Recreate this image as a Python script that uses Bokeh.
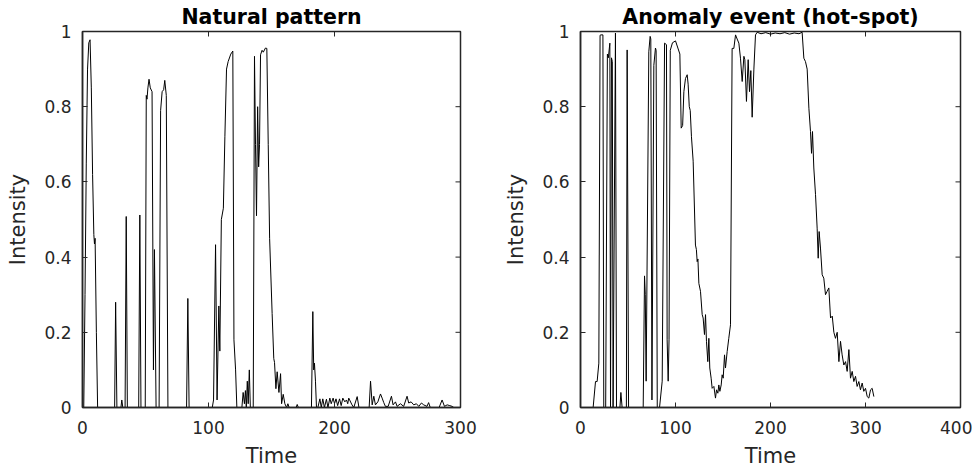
import math
from bokeh.plotting import figure
from bokeh.models import Range1d, LinearAxis, FixedTicker
from bokeh.layouts import row
from bokeh.embed import file_html
from bokeh.resources import INLINE

# ---------------- data ----------------
nat_t = [0, 1, 2, 3, 4, 5, 6, 7, 8, 9, 9.5, 10, 11, 12,
         25.5, 26.3, 27.3,
         30.5, 31.2, 32,
         33.8, 34.7, 35.6,
         44.6, 45.5, 46.4,
         49.8, 50.6, 51.2, 51.9, 52.8, 53.8, 55.2, 56.3, 57.1, 58.4,
         60.8, 62, 63.2, 64.4, 65.3, 66.5, 67.8,
         82.6, 83.6, 84.6,
         103, 104, 105.6, 106.8, 108.2, 109, 110.2, 111.8, 113, 114.3, 115.6, 117.7, 119.3, 120.2, 121.5, 122.5,
         126.5, 127.5, 128.5, 129.3, 130, 130.8, 131.5, 132.4, 133.2, 135.5, 136.5, 137.3, 138.1, 139, 139.8,
         140.5, 141.3, 142.5, 143.5, 145.2, 146.3, 147.4, 148.5, 150.5, 151.8, 152.4, 153.5, 154.5, 155.9,
         157.2, 158, 159.3, 160.6, 162, 163, 164, 169.5, 170.4, 171.3,
         181.7, 182.8, 183.5, 184.1, 184.9, 185.7,
         186.8, 188.4, 189.5, 190.7, 192, 193.6, 194.8, 196.3, 197.4, 198.9, 200, 201.2, 202.5, 204, 205.3,
         206.6, 208.2, 209.5, 210.5, 211.3, 213.9, 215.3, 218, 219.4, 221,
         227.5, 228.6, 229.9, 231.2, 232.5, 234.4, 236.5, 237.8, 239.1, 240.4, 242.6, 245.2, 246.5, 248.4,
         249.7, 252.3, 254.9, 257.6, 258.9, 260.8, 262.9, 265, 266.9, 269, 270.8, 273.4, 274.7, 276,
         283, 285.4, 287.3, 289.4, 291.5, 293.4, 294.7, 300]
nat_v = [0, 0, 0.3, 0.65, 0.9, 0.97, 0.978, 0.85, 0.62, 0.46, 0.435, 0.45, 0.2, 0,
         0, 0.28, 0,
         0, 0.02, 0,
         0, 0.508, 0,
         0, 0.512, 0,
         0, 0.83, 0.82, 0.85, 0.873, 0.85, 0.84, 0.1, 0.42, 0,
         0, 0.79, 0.84, 0.845, 0.87, 0.83, 0,
         0, 0.29, 0,
         0, 0.02, 0.433, 0.02, 0.27, 0.15, 0.5, 0.53, 0.72, 0.9, 0.92, 0.94, 0.948, 0.18, 0.1, 0,
         0, 0.04, 0.01, 0.045, 0, 0.07, 0.01, 0.1, 0, 0, 0.934, 0.7, 0.51, 0.8, 0.64,
         0.7, 0.938, 0.95, 0.945, 0.956, 0.955, 0.7, 0.45, 0.25, 0.13, 0.12, 0.05, 0.095, 0.04,
         0.09, 0.01, 0.035, 0.01, 0, 0.01, 0, 0, 0.008, 0,
         0, 0.255, 0.1, 0.118, 0.07, 0,
         0, 0.023, 0, 0.023, 0, 0.022, 0, 0.025, 0.01, 0.025, 0.01, 0.023, 0.005, 0.023, 0.005,
         0.025, 0.015, 0.02, 0.01, 0.025, 0.007, 0, 0.029, 0, 0,
         0, 0.07, 0.007, 0.03, 0.007, 0.015, 0.036, 0.025, 0.013, 0.003, 0.003, 0.03, 0.007, 0.015,
         0.003, 0.01, 0.003, 0.03, 0.012, 0.015, 0.007, 0.01, 0.003, 0.012, 0.007, 0.003, 0.013, 0,
         0, 0.02, 0.003, 0.007, 0.005, 0.003, 0, 0]

hot_t = [13.3, 15.8, 17.5, 19.3, 20.6, 21.5, 23.6, 24.5,
         26.5, 28.3, 29.3, 30.9, 31.6, 32.6, 33.5, 34.3, 36.8, 37.9,
         41.5, 42.5, 43.8,
         48.3, 49.1, 50.6,
         66, 67.4, 68.2, 69.1, 71.9, 73.3, 74, 75.2, 77.2, 78.9, 79.6, 80.8, 83.2, 86, 88.5, 90.5,
         91.2, 92.3, 93.2, 94.5, 96.8, 100, 102.5, 104.6, 106, 107.5, 108.8, 110.5, 112.3, 113.3,
         114.5, 115.5, 116.8, 118.6, 121, 122, 122.8, 123.6, 124.6,
         126.3, 128.1, 129.1, 130.5, 131.6, 132.6, 134, 135.1, 136.1, 137.5, 138.6, 140.4, 142.1,
         143.2, 144.6, 145.6, 146.7, 148.1, 149.1, 150.2, 151.6, 152.6, 154.4, 156.1, 157.9,
         159.6, 161.4, 163.2, 164.9, 166.7, 168.4, 170.2, 172, 173, 174.7, 176.5, 177.9, 179.3,
         180.7, 182.5, 184.2, 186, 190, 195, 200, 205, 210, 215, 220, 225, 230, 233.3,
         235.1, 236.8, 238.6, 240.4, 242.1, 243.2, 244.2, 245.6, 247.4, 249.1, 250.2, 251.2,
         252.6, 254.4, 256.1, 257.9, 259.6, 261.4, 263.2, 265, 266.7, 268.4, 270.2, 272,
         273.7, 275.4, 277.2, 279, 280.7, 282.5, 284.2, 286, 287.7, 289.5, 291.2, 293,
         294.7, 296.5, 298.2, 300, 301.8, 303.5, 305.3, 307, 308.8]
hot_v = [0, 0.069, 0.069, 0.118, 0.99, 0.991, 0.991, 0,
         0, 0.94, 0.93, 0.969, 0, 0.93, 0.92, 0, 0.996, 0,
         0, 0.04, 0,
         0, 0.951, 0,
         0, 0.35, 0.3, 0.07, 0.946, 0.987, 0.98, 0.02, 0.91, 0.956, 0.95, 0, 0, 0.07, 0.969, 0.965,
         0.18, 0.07, 0.18, 0.95, 0.97, 0.975, 0.956, 0.94, 0.743, 0.75, 0.84, 0.875, 0.885, 0.86,
         0.8, 0.79, 0.72, 0.655, 0.432, 0.42, 0.388, 0.395, 0.33,
         0.309, 0.247, 0.238, 0.194, 0.247, 0.176, 0.122, 0.184, 0.105, 0.078, 0.051, 0.056, 0.025,
         0.047, 0.038, 0.06, 0.043, 0.06, 0.087, 0.078, 0.14, 0.105, 0.149, 0.184, 0.22,
         0.955, 0.955, 0.991, 0.98, 0.969, 0.929, 0.867, 0.934, 0.925, 0.814, 0.925, 0.84, 0.896,
         0.772, 0.9, 0.991, 0.998, 0.994, 0.997, 0.993, 0.996, 0.994, 0.997, 0.993, 0.996, 0.994, 0.998,
         0.929, 0.92, 0.9, 0.796, 0.734, 0.676, 0.734, 0.637, 0.566, 0.477, 0.397, 0.468,
         0.424, 0.353, 0.344, 0.3, 0.309, 0.318, 0.238, 0.243, 0.2, 0.184, 0.2, 0.122,
         0.176, 0.14, 0.113, 0.122, 0.096, 0.154, 0.078, 0.096, 0.069, 0.083, 0.056, 0.069,
         0.047, 0.065, 0.043, 0.051, 0.029, 0.025, 0.047, 0.051, 0.029]

y_ticks = [0, 0.2, 0.4, 0.6, 0.8, 1]
y_tick_labels = ["0", "0.2", "0.4", "0.6", "0.8", "1"]
x_ticks_left = [0, 100, 200, 300]
x_ticks_right = [0, 100, 200, 300, 400]
titles = ["Natural pattern", "Anomaly event (hot-spot)"]
x_label = "Time"
y_label = "Intensity"

FONT = "DejaVu Sans"
AX = "#262626"


def style_axis(ax):
    ax.axis_line_color = AX
    ax.axis_line_width = 1.5
    ax.major_tick_line_color = AX
    ax.major_tick_line_width = 1
    ax.major_tick_in = 5
    ax.major_tick_out = 0
    ax.minor_tick_line_color = None
    ax.major_label_text_font = FONT
    ax.major_label_text_color = AX
    ax.major_label_text_font_size = "17px"
    ax.axis_label_text_font = FONT
    ax.axis_label_text_color = AX
    ax.axis_label_text_font_style = "normal"
    ax.axis_label_text_font_size = "21px"


def make(title, t, v, xmax, xticks, left_border, frame_w, right_border):
    p = figure(frame_width=frame_w, frame_height=376,
               x_range=Range1d(0, xmax), y_range=Range1d(0, 1),
               toolbar_location=None, output_backend="svg",
               min_border_left=left_border, min_border_right=right_border,
               min_border_top=30, min_border_bottom=64,
               x_axis_type=None, y_axis_type=None)
    p.title.text = title
    p.title.align = "center"
    p.title.text_font = FONT
    p.title.text_font_size = "20.5px"
    p.title.text_font_style = "bold"
    p.title.text_color = "#000000"
    p.title.standoff = 5
    p.grid.visible = False
    p.outline_line_color = AX
    p.outline_line_width = 1.5
    p.background_fill_color = "white"
    p.border_fill_color = "white"

    xb = LinearAxis(ticker=FixedTicker(ticks=xticks), axis_label=x_label)
    style_axis(xb)
    xb.major_label_standoff = 13
    xb.axis_label_standoff = 7
    p.add_layout(xb, "below")

    yl = LinearAxis(ticker=FixedTicker(ticks=y_ticks), axis_label=y_label)
    style_axis(yl)
    yl.major_label_overrides = {tk: lb for tk, lb in zip(y_ticks, y_tick_labels)}
    yl.major_label_standoff = 11
    yl.axis_label_standoff = 11
    p.add_layout(yl, "left")

    # inward tick marks on the top and right edges of the box (half clipped by the frame)
    p.scatter(xticks, [1] * len(xticks), marker="dash", size=10, angle=math.pi / 2,
              line_color=AX, line_width=1)
    p.scatter([xmax] * len(y_ticks), y_ticks, marker="dash", size=10,
              line_color=AX, line_width=1)

    p.line(t, v, line_color="black", line_width=1)
    return p


p1 = make(titles[0], nat_t, nat_v, 300, x_ticks_left, 82, 378, 38)
p2 = make(titles[1], hot_t, hot_v, 400, x_ticks_right, 82, 380, 12)
layout = row(p1, p2)

open("out.html", "w").write(file_html(layout, INLINE))
